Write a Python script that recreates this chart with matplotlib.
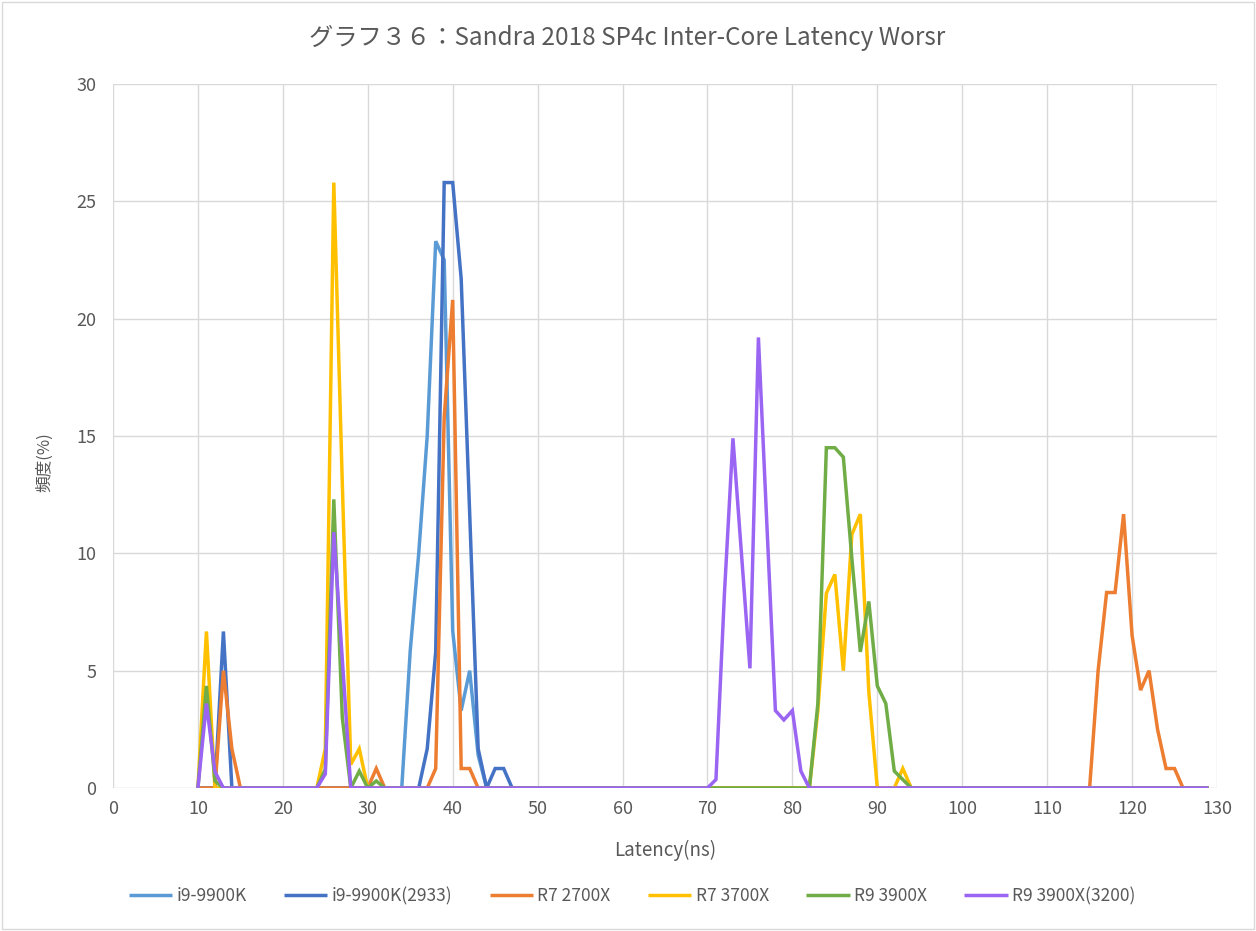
import matplotlib
matplotlib.use("Agg")
import matplotlib.pyplot as plt
from matplotlib.patches import Rectangle
import numpy as np

plt.rcParams['font.family'] = ['Noto Sans CJK JP', 'DejaVu Sans']

# Latency bins (ns)
latency = list(range(10, 130))

# Non-zero frequency values (%); all other bins are 0
i9_9900K = {35: 5.85, 36: 10.0, 37: 15.0, 38: 23.3, 39: 22.5, 40: 6.7,
            41: 3.3, 42: 5.0, 43: 1.4}
i9_9900K_2933 = {13: 6.67, 37: 1.67, 38: 5.8, 39: 25.8, 40: 25.8, 41: 21.7,
                 42: 11.7, 43: 1.67, 45: 0.83, 46: 0.83}
r7_2700X = {13: 5.0, 14: 1.67, 31: 0.83, 38: 0.83, 39: 15.8, 40: 20.8,
            41: 0.83, 42: 0.83, 116: 5.0, 117: 8.33, 118: 8.33, 119: 11.67,
            120: 6.5, 121: 4.17, 122: 5.0, 123: 2.5, 124: 0.83, 125: 0.83}
r7_3700X = {11: 6.67, 25: 1.67, 26: 25.8, 27: 13.0, 28: 1.0, 29: 1.67,
            83: 3.3, 84: 8.3, 85: 9.1, 86: 5.0, 87: 10.8, 88: 11.67,
            89: 4.1, 93: 0.83}
r9_3900X = {11: 4.35, 12: 0.3, 25: 0.8, 26: 12.3, 27: 3.0, 29: 0.72,
            31: 0.3, 83: 3.6, 84: 14.5, 85: 14.5, 86: 14.1, 87: 9.8,
            88: 5.8, 89: 7.95, 90: 4.35, 91: 3.6, 92: 0.72, 93: 0.36}
r9_3900X_3200 = {11: 3.6, 12: 0.7, 25: 0.6, 26: 10.9, 27: 5.5, 71: 0.36,
                 72: 8.3, 73: 14.9, 74: 10.0, 75: 5.1, 76: 19.2, 77: 11.2,
                 78: 3.3, 79: 2.9, 80: 3.3, 81: 0.72}

series_names = ["i9-9900K", "i9-9900K(2933)", "R7 2700X", "R7 3700X",
                "R9 3900X", "R9 3900X(3200)"]
series_data = [i9_9900K, i9_9900K_2933, r7_2700X, r7_3700X, r9_3900X,
               r9_3900X_3200]
colors = ["#5B9BD5", "#4472C4", "#ED7D31", "#FFC000", "#70AD47", "#9B65F3"]

x_ticks = list(range(0, 131, 10))
y_ticks = list(range(0, 31, 5))

W, H = 1256, 931
fig = plt.figure(figsize=(W/100, H/100), dpi=100)
ax = fig.add_axes([113/W, 1 - 788/H, (1217-113)/W, (788-84)/H])

for name, data, c in zip(series_names, series_data, colors):
    vals = [data.get(x, 0.0) for x in latency]
    ax.plot(latency, vals, color=c, lw=2.5, label=name,
            solid_joinstyle='miter', solid_capstyle='butt')

ax.set_xlim(0, 130)
ax.set_ylim(0, 30)
ax.set_xticks(x_ticks)
ax.set_yticks(y_ticks)
ax.grid(True, color="#D9D9D9", lw=1.0)
ax.set_axisbelow(True)
for s in ax.spines.values():
    s.set_visible(False)
ax.tick_params(axis='both', length=0, labelsize=13, labelcolor="#595959")
ax.tick_params(axis='x', pad=9)
ax.tick_params(axis='y', pad=12)

fig.text(665/W, 1 - 850/H, "Latency(ns)", ha='center', va='center',
         fontsize=13.5, color="#595959")
fig.text(45/W, 1 - 462/H, "頻度(%)", ha='center', va='center', rotation=90,
         fontsize=12, color="#595959")

fig.text(627/W, 1 - 38/H, "グラフ３６：Sandra 2018 SP4c Inter-Core Latency Worsr",
         ha='center', va='center', fontsize=17.5, color="#595959")

leg = fig.legend(loc='center', bbox_to_anchor=(632/W, 1 - 896/H), ncol=6,
                 frameon=False, fontsize=12.5, handlelength=2.5,
                 columnspacing=2.15, handletextpad=0.25)
for t in leg.get_texts():
    t.set_color("#595959")

fig.patches.append(Rectangle((0.0015, 0.002), 0.997, 0.996,
                             transform=fig.transFigure, fill=False,
                             edgecolor="#D9D9D9", lw=1.0))

fig.savefig("out.png", dpi=100)
